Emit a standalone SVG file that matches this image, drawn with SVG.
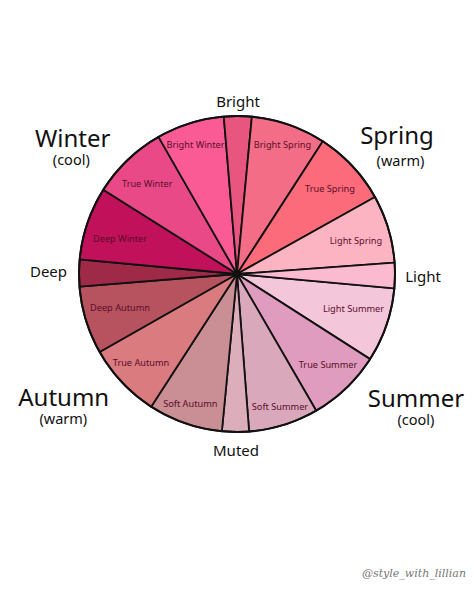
<svg xmlns="http://www.w3.org/2000/svg" width="474" height="592" viewBox="0 0 474 592">
<style>
.w{stroke:#111;stroke-width:1.8;stroke-linejoin:round}
.in{font-family:"Noto Sans","Liberation Sans",sans-serif;font-size:9.2px;fill:#5b0d2b;text-anchor:middle}
.big{font-family:"Noto Sans","Liberation Sans",sans-serif;font-size:24px;fill:#111;text-anchor:middle}
.sub{font-family:"Noto Sans","Liberation Sans",sans-serif;font-size:14.5px;fill:#111;text-anchor:middle}
.card{font-family:"Noto Sans","Liberation Sans",sans-serif;font-size:15px;fill:#111;text-anchor:middle}
.wm{font-family:"DejaVu Serif","Liberation Serif",serif;font-style:italic;font-size:11px;fill:#777;text-anchor:middle}
</style>
<rect width="474" height="592" fill="#ffffff"/>
<g id="wheel">
<g id="light-summer"><path class="w" fill="#f4c6da" d="M237 274 L394.35 288.32 A158 158 0 0 1 370.11 359.13 Z"/><text class="in" x="353.5" y="311.7">Light Summer</text></g>
<g id="true-summer"><path class="w" fill="#e09cbf" d="M237 274 L370.11 359.13 A158 158 0 0 1 316.24 410.69 Z"/><text class="in" x="328" y="368.3">True Summer</text></g>
<g id="soft-summer"><path class="w" fill="#d9a8ba" d="M237 274 L316.24 410.69 A158 158 0 0 1 249.12 431.53 Z"/><text class="in" x="280" y="410">Soft Summer</text></g>
<g id="muted-seg"><path class="w" fill="#dcaebb" d="M237 274 L249.12 431.53 A158 158 0 0 1 221.86 431.27 Z"/></g>
<g id="soft-autumn"><path class="w" fill="#c98f95" d="M237 274 L221.86 431.27 A158 158 0 0 1 151.18 406.66 Z"/><text class="in" x="190.3" y="407.3">Soft Autumn</text></g>
<g id="true-autumn"><path class="w" fill="#d97b7f" d="M237 274 L151.18 406.66 A158 158 0 0 1 99.62 352.04 Z"/><text class="in" x="141" y="365.7">True Autumn</text></g>
<g id="deep-autumn"><path class="w" fill="#b7535f" d="M237 274 L99.62 352.04 A158 158 0 0 1 79.51 286.67 Z"/><text class="in" x="120" y="310.7">Deep Autumn</text></g>
<g id="deep-seg"><path class="w" fill="#9f2a47" d="M237 274 L79.51 286.67 A158 158 0 0 1 79.68 259.41 Z"/></g>
<g id="deep-winter"><path class="w" fill="#c0115a" d="M237 274 L79.68 259.41 A158 158 0 0 1 103.30 189.81 Z"/><text class="in" x="120" y="241.7">Deep Winter</text></g>
<g id="true-winter"><path class="w" fill="#e94a87" d="M237 274 L103.30 189.81 A158 158 0 0 1 158.48 136.89 Z"/><text class="in" x="147.3" y="187.3">True Winter</text></g>
<g id="bright-winter"><path class="w" fill="#fb5b95" d="M237 274 L158.48 136.89 A158 158 0 0 1 223.78 116.55 Z"/><text class="in" x="195.5" y="148">Bright Winter</text></g>
<g id="bright-seg"><path class="w" fill="#e8557e" d="M237 274 L223.78 116.55 A158 158 0 0 1 251.87 116.70 Z"/></g>
<g id="bright-spring"><path class="w" fill="#f26d85" d="M237 274 L251.87 116.70 A158 158 0 0 1 322.82 141.34 Z"/><text class="in" x="282.5" y="148.3">Bright Spring</text></g>
<g id="true-spring"><path class="w" fill="#fb6b7a" d="M237 274 L322.82 141.34 A158 158 0 0 1 374.99 197.04 Z"/><text class="in" x="330" y="192.3">True Spring</text></g>
<g id="light-spring"><path class="w" fill="#fdb4c2" d="M237 274 L374.99 197.04 A158 158 0 0 1 394.60 262.70 Z"/><text class="in" x="356" y="244">Light Spring</text></g>
<g id="light-seg"><path class="w" fill="#fcbad0" d="M237 274 L394.60 262.70 A158 158 0 0 1 394.35 288.32 Z"/></g>
<circle cx="237" cy="274" r="158" fill="none" stroke="#111" stroke-width="2"/>
<circle cx="237" cy="274" r="2.5" fill="#111"/>
</g>
<g id="labels">
<g id="bright"><text class="card" x="238" y="107">Bright</text></g>
<g id="light"><text class="card" x="423" y="281.7">Light</text></g>
<g id="muted"><text class="card" x="236" y="456">Muted</text></g>
<g id="deep"><text class="card" x="48.5" y="277.3">Deep</text></g>
<g id="winter"><text class="big" x="72.7" y="146.5">Winter</text><text class="sub" x="71.3" y="164.5">(cool)</text></g>
<g id="spring"><text class="big" x="397" y="143.5">Spring</text><text class="sub" x="400.5" y="165.5">(warm)</text></g>
<g id="autumn"><text class="big" x="63.7" y="406">Autumn</text><text class="sub" x="63.3" y="424">(warm)</text></g>
<g id="summer"><text class="big" x="416" y="406.5">Summer</text><text class="sub" x="416" y="424.5">(cool)</text></g>
<g id="watermark"><text class="wm" x="414" y="577">@style_with_lillian</text></g>
</g>
</svg>
